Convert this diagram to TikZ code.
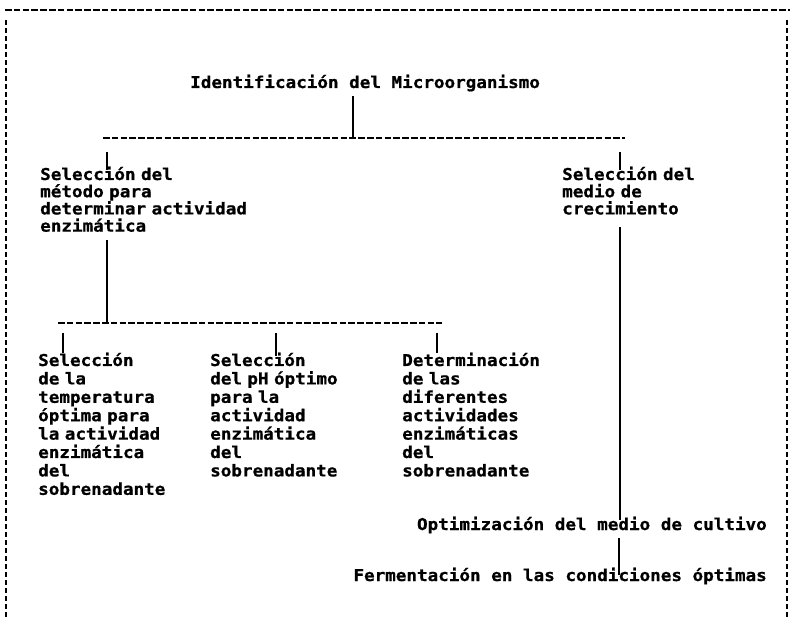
\documentclass[tikz,border=0pt]{standalone}
\usepackage{fontspec}
\newfontfamily\dotfont{DejaVu Sans Mono}[FakeStretch=1.08,BoldFeatures={FakeBold=0.8}]
\newcommand\dotsize[1]{\fontsize{16.3}{#1}\selectfont\spaceskip=10.6pt plus 0pt minus 0pt\relax\hyphenpenalty=10000\relax}
\begin{document}
\begin{tikzpicture}[x=1pt,y=-1pt,
  txt/.style={font=\dotfont\bfseries\dotsize{17.2pt}, inner sep=0pt, anchor=base west},
  blk/.style={txt, align=left, text width=330pt},
  blkb/.style={blk, font=\dotfont\bfseries\dotsize{18.4pt}},
  conn/.style={line width=1.7pt},
  hdash/.style={line width=2.1pt, dash pattern=on 6.5pt off 2.3pt},
  border/.style={line width=1.8pt, dash pattern=on 5pt off 3pt}]
\useasboundingbox (0,0) rectangle (790,617);
% frame
\coordinate (ftl) at (5,10);
\coordinate (ftr) at (790,10);
\coordinate (flt) at (6,20);
\coordinate (flb) at (6,617);
\coordinate (frt) at (787,20);
\coordinate (frb) at (787,617);
\draw[hdash] (ftl) -- (ftr);
\draw[border] (flt) -- (flb);
\draw[border] (frt) -- (frb);
% texts
\node[txt] (ident) at (190,88) {Identificación del Microorganismo};
\node[blk] (metodo) at (40,180) {Selección del\\método para\\determinar actividad\\enzimática};
\node[blk] (medio) at (562,180) {Selección del\\medio de\\crecimiento};
\node[blkb] (temp) at (38,366) {Selección\\de la\\temperatura\\óptima para\\la actividad\\enzimática\\del\\sobrenadante};
\node[blkb] (ph) at (210,366) {Selección\\del pH óptimo\\para la\\actividad\\enzimática\\del\\sobrenadante};
\node[blkb] (det) at (402,366) {Determinación\\de las\\diferentes\\actividades\\enzimáticas\\del\\sobrenadante};
\node[txt, anchor=base east] (optim) at (767,530) {Optimización del medio de cultivo};
\node[txt, anchor=base east] (ferm) at (767,581) {Fermentación en las condiciones óptimas};
% first level
\coordinate (idb) at (353,96);
\coordinate (j1) at (353,138);
\coordinate (bar1w) at (103,138);
\coordinate (bar1e) at (625,138);
\draw[conn] (idb) -- (j1);
\draw[hdash] (bar1w) -- (bar1e);
\coordinate (t1) at (107,152);
\coordinate (t1e) at (107,170);
\coordinate (t2) at (620,152);
\coordinate (t2e) at (620,170);
\draw[conn] (t1) -- (t1e);
\draw[conn] (t2) -- (t2e);
% second level left
\coordinate (mb) at (107,240);
\coordinate (j2) at (107,323);
\coordinate (bar2w) at (58,323);
\coordinate (bar2e) at (442,323);
\draw[conn] (mb) -- (j2);
\draw[hdash] (bar2w) -- (bar2e);
\coordinate (u1) at (63,333);
\coordinate (u1e) at (63,353);
\coordinate (u2) at (276,333);
\coordinate (u2e) at (276,356);
\coordinate (u3) at (437,333);
\coordinate (u3e) at (437,353);
\draw[conn] (u1) -- (u1e);
\draw[conn] (u2) -- (u2e);
\draw[conn] (u3) -- (u3e);
% right column
\coordinate (r1) at (620,227);
\coordinate (r2) at (620,520);
\draw[conn] (r1) -- (r2);
\coordinate (r3) at (619,538);
\coordinate (r4) at (619,575);
\draw[conn] (r3) -- (r4);
\end{tikzpicture}
\end{document}
